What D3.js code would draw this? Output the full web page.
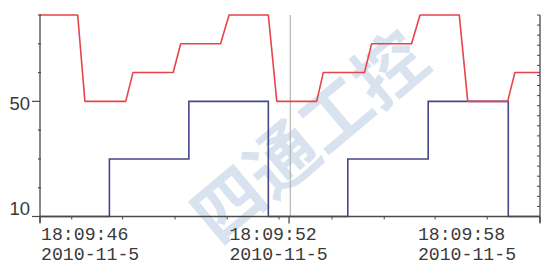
<!DOCTYPE html>
<html>
<head>
<meta charset="utf-8">
<script src="https://cdn.jsdelivr.net/npm/d3@7"></script>
<style>
  html, body { margin: 0; padding: 0; background: #fff; }
  svg { display: block; }
</style>
</head>
<body>
<svg id="chart" width="545" height="266"></svg>
<script>
// ---- data (seconds after 18:09:00 on 2010-11-05) ----
const redTimes  = [46.00, 47.20, 47.43, 48.73, 48.96, 50.24, 50.48, 51.75, 52.02, 53.27, 53.54,
                   54.81, 55.02, 56.33, 56.56, 57.83, 58.10, 59.35, 59.62, 60.89, 61.12, 61.92];
const redValues = [80, 80, 50, 50, 60, 60, 70, 70, 80, 80, 50,
                   50, 60, 60, 70, 70, 80, 80, 50, 50, 60, 60];
const blueTimes  = [46.00, 48.21, 50.74, 53.27, 55.80, 58.36, 60.91, 61.92];
const blueValues = [10, 30, 50, 10, 30, 50, 10, 10];
const cursorTime = 53.97;
const xLabelTimes = [46, 52, 58];
const xLabelDates = ["2010-11-5", "2010-11-5", "2010-11-5"];
const xMinorTicks = [47.01, 48.63, 50.30, 51.96, 53.61, 55.30, 56.96, 58.58, 60.24];
const xMajorTicks = [46.00, 53.93, 61.92];
const yTicks = [10, 20, 30, 40, 50, 60, 70, 80];
const yLabels = [10, 50];
const watermark = "四通工控";

(function () {
const base = new Date(2010, 10, 5, 18, 9, 0).getTime();
const toDate = s => new Date(base + s * 1000);

const svg = d3.select("#chart");
const mLeft = 40, mRight = 540, mTop = 15, mBottom = 216.5;

const x = d3.scaleTime().domain([toDate(46), toDate(61.92)]).range([mLeft, mRight]);
const y = d3.scaleLinear().domain([10, 80]).range([mBottom, mTop]);

// watermark
svg.append("text")
  .attr("transform", "translate(306,133) rotate(-40)")
  .attr("text-anchor", "middle")
  .attr("dominant-baseline", "central")
  .attr("font-family", "'Noto Sans CJK SC'")
  .attr("font-weight", "bold")
  .attr("font-size", 70)
  .attr("fill", "#a9c3dc")
  .attr("opacity", 0.45)
  .text(watermark);

// cursor line
svg.append("line")
  .attr("x1", x(toDate(cursorTime))).attr("x2", x(toDate(cursorTime)))
  .attr("y1", mTop).attr("y2", mBottom)
  .attr("stroke", "#b4b4b4").attr("stroke-width", 1.2);

// series
const blueData = blueTimes.map((t, i) => [toDate(t), blueValues[i]]);
const redData = redTimes.map((t, i) => [toDate(t), redValues[i]]);

svg.append("path")
  .datum(blueData)
  .attr("fill", "none")
  .attr("stroke", "#46468c")
  .attr("stroke-width", 1.6)
  .attr("d", d3.line().x(d => x(d[0])).y(d => y(d[1])).curve(d3.curveStepAfter));

svg.append("path")
  .datum(redData)
  .attr("fill", "none")
  .attr("stroke", "#e8444c")
  .attr("stroke-width", 1.6)
  .attr("stroke-linejoin", "round")
  .attr("d", d3.line().x(d => x(d[0])).y(d => y(d[1])));

const axisColor = "#4a4a4a";

// bottom axis
const gx = svg.append("g").attr("transform", `translate(0,${mBottom})`);
gx.append("line").attr("x1", mLeft).attr("x2", mRight).attr("stroke", axisColor).attr("stroke-width", 1.3);
gx.selectAll(".minor").data(xMinorTicks).join("line")
  .attr("x1", d => x(toDate(d))).attr("x2", d => x(toDate(d)))
  .attr("y1", 0).attr("y2", 3).attr("stroke", axisColor);
gx.selectAll(".major").data(xMajorTicks).join("line")
  .attr("x1", d => x(toDate(d))).attr("x2", d => x(toDate(d)))
  .attr("y1", 0).attr("y2", 7).attr("stroke", axisColor).attr("stroke-width", 1.3);

// two-line time labels
const fmt = d3.timeFormat("%H:%M:%S");
const lblFont = "'Liberation Mono', monospace";
const lblG = svg.append("g").attr("fill", "#3a3a3a").attr("font-family", lblFont).attr("font-size", 18.2);
lblG.selectAll("text.t").data(xLabelTimes).join("text")
  .attr("class", "t")
  .attr("x", d => x(toDate(d)) + 1)
  .attr("y", 239.8)
  .text(d => fmt(toDate(d)));
lblG.selectAll("text.d").data(xLabelTimes).join("text")
  .attr("class", "d")
  .attr("x", d => x(toDate(d)) + 1)
  .attr("y", 260.4)
  .text((d, i) => xLabelDates[i]);

// left axis
const gy = svg.append("g");
gy.append("line").attr("x1", mLeft).attr("x2", mLeft).attr("y1", mTop).attr("y2", mBottom + 6)
  .attr("stroke", axisColor).attr("stroke-width", 1.3);
gy.selectAll(".yt").data(yTicks).join("line")
  .attr("x1", d => yLabels.includes(d) ? mLeft - 8 : mLeft - 2)
  .attr("x2", d => yLabels.includes(d) ? mLeft : mLeft + 1)
  .attr("y1", d => y(d)).attr("y2", d => y(d))
  .attr("stroke", axisColor).attr("stroke-width", 1.2);
gy.selectAll(".yl").data(yLabels).join("text")
  .attr("x", 30)
  .attr("y", d => d === 10 ? y(d) - 1.5 : y(d) + 8.5)
  .attr("text-anchor", "end")
  .attr("font-family", "'Liberation Sans', Arial, sans-serif")
  .attr("font-size", 18.5)
  .attr("fill", "#3a3a3a")
  .text(d => d);

// right axis
const yr = d3.scaleLinear().domain([0, 20]).range([mBottom, mTop]);
const gr = svg.append("g");
gr.append("line").attr("x1", mRight).attr("x2", mRight).attr("y1", mTop).attr("y2", mBottom + 6)
  .attr("stroke", axisColor).attr("stroke-width", 1.3);
gr.selectAll("line.rt").data(d3.range(0, 21)).join("line")
  .attr("class", "rt")
  .attr("x1", mRight - 3).attr("x2", mRight)
  .attr("y1", d => yr(d)).attr("y2", d => yr(d))
  .attr("stroke", axisColor);
})();
</script>
</body>
</html>
